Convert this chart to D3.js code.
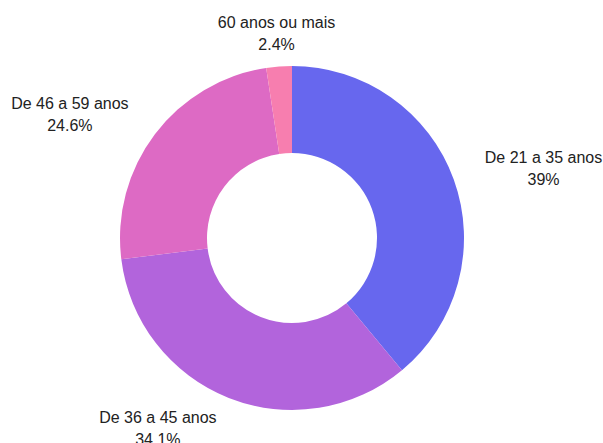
<!DOCTYPE html>
<html>
<head>
  <meta charset="utf-8">
  <script src="https://cdn.jsdelivr.net/npm/d3@7"></script>
  <style>
    body { margin: 0; background: #fff; }
    text { font-family: "Liberation Sans", Arial, sans-serif; font-size: 16px; fill: #222; }
  </style>
</head>
<body>
  <svg id="chart" width="603" height="443"></svg>
  <script>
    // faixas etárias e percentuais
    var categorias = ["De 21 a 35 anos", "De 36 a 45 anos", "De 46 a 59 anos", "60 anos ou mais"];
    var valores = [39, 34.1, 24.6, 2.4];
    var rotulos = ["39%", "34.1%", "24.6%", "2.4%"];
    var cores = ["#6767ee", "#b264dc", "#dd6ac4", "#f77eaf"];

    var dados = categorias.map(function(c, i) {
      return { cat: c, val: valores[i], rot: rotulos[i] };
    });

    var svg = d3.select("#chart");
    var cx = 292, cy = 238;
    var rExt = 172, rInt = 85, rRot = 205;

    var cor = d3.scaleOrdinal().domain(categorias).range(cores);

    var pie = d3.pie().sort(null).value(function(d) { return d.val; });
    var arc = d3.arc().innerRadius(rInt).outerRadius(rExt);

    var g = svg.append("g").attr("transform", "translate(" + cx + "," + cy + ")");

    var fatias = pie(dados);

    g.selectAll("path")
      .data(fatias)
      .enter()
      .append("path")
      .attr("d", arc)
      .attr("fill", function(d) { return cor(d.data.cat); });

    // rótulos fora do anel
    fatias.forEach(function(d) {
      var a = (d.startAngle + d.endAngle) / 2;
      var s = Math.sin(a), c = Math.cos(a);
      var lg = g.append("g");
      var t1 = lg.append("text").attr("text-anchor", "middle").attr("dominant-baseline", "central").attr("y", -11).text(d.data.cat);
      var t2 = lg.append("text").attr("text-anchor", "middle").attr("dominant-baseline", "central").attr("y", 11).text(d.data.rot);
      var w = Math.max(t1.node().getComputedTextLength(), t2.node().getComputedTextLength());
      var x = rRot * s;
      if (Math.abs(s) > 0.2) x += (s > 0 ? 1 : -1) * w / 2;
      var y = -rRot * c;
      lg.attr("transform", "translate(" + x + "," + y + ")");
    });
  </script>
</body>
</html>
